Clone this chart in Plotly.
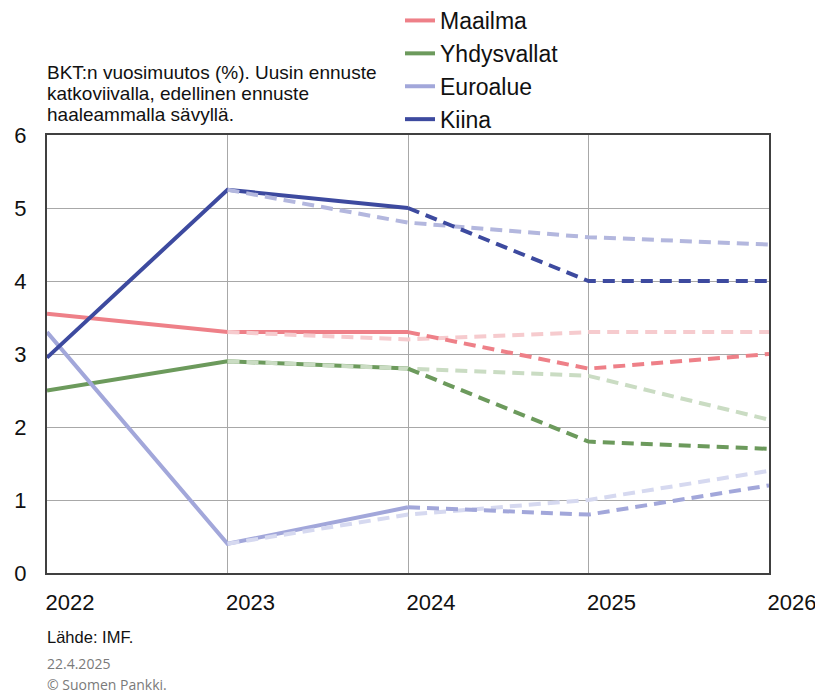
import plotly.graph_objects as go

years = [2022, 2023, 2024, 2025, 2026]
year_labels = ["2022", "2023", "2024", "2025", "2026"]

maailma_actual = [3.55, 3.3, 3.3, None, None]
maailma_prev = [None, 3.3, 3.2, 3.3, 3.3]
maailma_latest = [None, None, 3.3, 2.8, 3.0]

yhdysvallat_actual = [2.5, 2.9, 2.8, None, None]
yhdysvallat_prev = [None, 2.9, 2.8, 2.7, 2.1]
yhdysvallat_latest = [None, None, 2.8, 1.8, 1.7]

euroalue_actual = [3.3, 0.4, 0.9, None, None]
euroalue_prev = [None, 0.4, 0.8, 1.0, 1.4]
euroalue_latest = [None, None, 0.9, 0.8, 1.2]

kiina_actual = [2.95, 5.25, 5.0, None, None]
kiina_prev = [None, 5.25, 4.8, 4.6, 4.5]
kiina_latest = [None, None, 5.0, 4.0, 4.0]

series = [
    ("Maailma", maailma_actual, maailma_prev, maailma_latest, "#ee8088", "#f6cbce"),
    ("Yhdysvallat", yhdysvallat_actual, yhdysvallat_prev, yhdysvallat_latest, "#6c9a5c", "#cadcc3"),
    ("Euroalue", euroalue_actual, euroalue_prev, euroalue_latest, "#a2a7da", "#d6d9f0"),
    ("Kiina", kiina_actual, kiina_prev, kiina_latest, "#3d4a9f", "#b3b7de"),
]

fig = go.Figure()
dash = "12px,7px"
W = 4
for name, act, prev, lat, col, light in series:
    fig.add_trace(go.Scatter(x=years, y=act, mode="lines", name=name, legendgroup=name,
                             line=dict(color=col, width=W), hoverinfo="skip"))
for name, act, prev, lat, col, light in series:
    fig.add_trace(go.Scatter(x=years, y=prev, mode="lines", name=name + " (edellinen)",
                             legendgroup=name, showlegend=False,
                             line=dict(color=light, width=W, dash=dash), hoverinfo="skip"))
for name, act, prev, lat, col, light in series:
    fig.add_trace(go.Scatter(x=years, y=lat, mode="lines", name=name + " (uusin)",
                             legendgroup=name, showlegend=False,
                             line=dict(color=col, width=W, dash=dash), hoverinfo="skip"))

font = "Liberation Sans, Arial, sans-serif"
# page body has an 8px margin, so the figure is drawn 8px smaller and offset
OFF = 8
H, Wd = 693 - OFF, 823 - OFF
L, R, T, B = 47 - OFF, 54, 135 - OFF, 120
ph = H - T - B
pw = Wd - L - R


def py(page_y):
    # page pixel row -> paper y
    return (H - B - (page_y - OFF)) / ph


def txt(s, page_y, size, color="#111111", family=font):
    return dict(text=s, xref="paper", yref="paper", x=0, y=py(page_y), xanchor="left",
                yanchor="middle", xshift=-2, showarrow=False, align="left",
                font=dict(size=size, family=family, color=color))


fig.update_layout(
    width=Wd, height=H,
    margin=dict(l=L, r=R, t=T, b=B, autoexpand=False),
    paper_bgcolor="white", plot_bgcolor="white",
    font=dict(family=font, color="#111111"),
    showlegend=True,
    legend=dict(x=353 / pw, xref="paper", y=py(21 - 22), yref="paper",
                xanchor="left", yanchor="top",
                font=dict(size=23, family=font, color="#111111"),
                bgcolor="rgba(0,0,0,0)", tracegroupgap=0),
    xaxis=dict(range=[2022, 2026], tickvals=years, ticktext=year_labels,
               showgrid=True, gridcolor="#a8a8a8", gridwidth=1,
               showline=True, linecolor="#404040", linewidth=2, mirror=True,
               ticks="", tickfont=dict(size=22, color="#111111"),
               ticklabelshift=23, ticklabelstandoff=9, zeroline=False),
    yaxis=dict(range=[0, 6], tickvals=[0, 1, 2, 3, 4, 5, 6],
               showgrid=True, gridcolor="#a8a8a8", gridwidth=1,
               showline=True, linecolor="#404040", linewidth=2, mirror=True,
               ticks="", tickfont=dict(size=22, color="#111111"),
               ticklabelstandoff=14, zeroline=False),
    annotations=[
        txt("BKT:n vuosimuutos (%). Uusin ennuste", 72, 19),
        txt("katkoviivalla, edellinen ennuste", 93, 19),
        txt("haaleammalla sävyllä.", 114, 19),
        txt("Lähde: IMF.", 637, 16.5),
        txt("22.4.2025", 663, 14, "#7a7a7a", "Open Sans, sans-serif"),
        txt("© Suomen Pankki.", 684, 14, "#7a7a7a", "Open Sans, sans-serif"),
    ],
)

fig.write_html("out.html")
